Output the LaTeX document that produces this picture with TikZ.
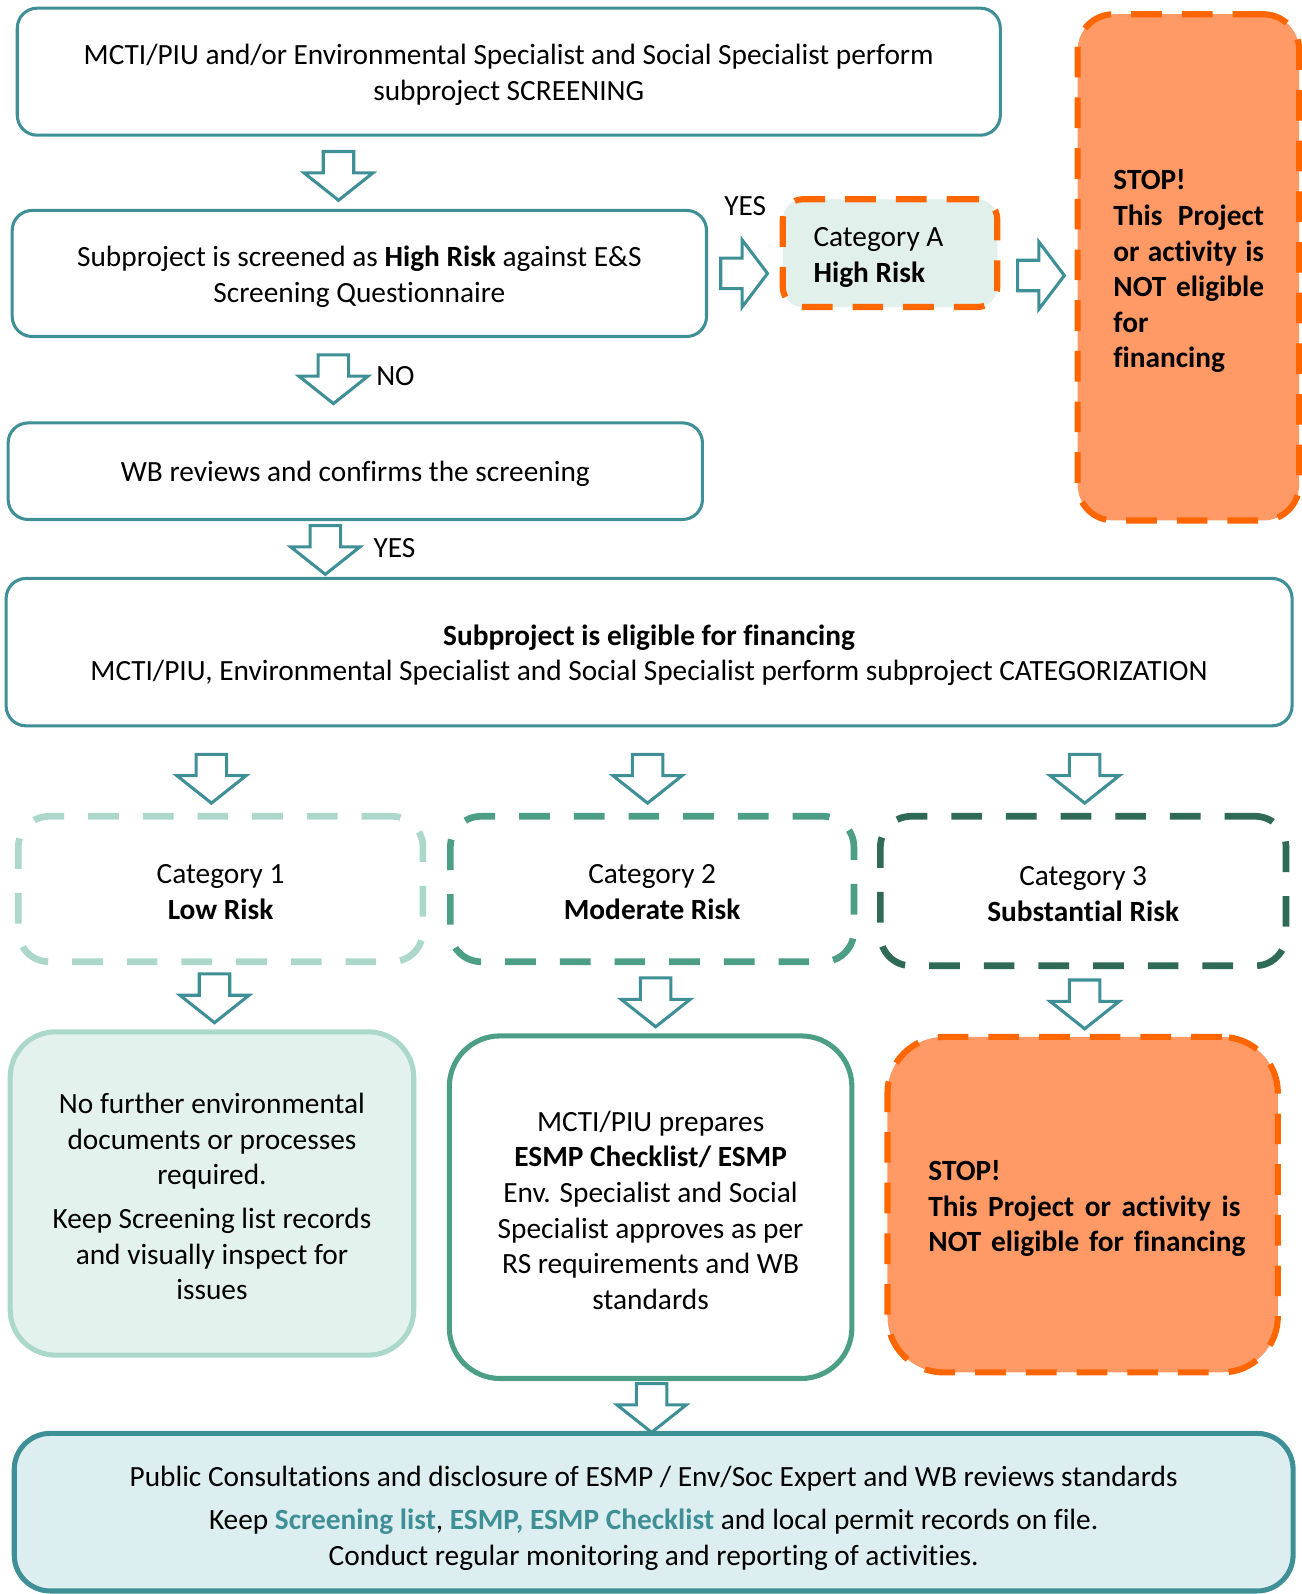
\documentclass[tikz,border=0pt]{standalone}
\usepackage{fontspec}
\setmainfont{Carlito}[Ligatures=NoCommon]
\usepackage{tikz}
\usetikzlibrary{fit}

\definecolor{tealline}{RGB}{62,143,150}
\definecolor{catafill}{RGB}{226,240,235}
\definecolor{stoporange}{RGB}{255,102,0}
\definecolor{stopfill}{RGB}{255,153,102}
\definecolor{lowrisk}{RGB}{171,216,203}
\definecolor{modrisk}{RGB}{76,158,134}
\definecolor{subrisk}{RGB}{47,106,87}
\definecolor{lowfill}{RGB}{228,242,237}
\definecolor{endfill}{RGB}{221,238,240}

\tikzset{
  txt/.style={font=\fontsize{22}{26.7}\selectfont, inner sep=0pt, yshift=-2.3pt},
  boldtxt/.style={font=\fontsize{22}{26.7}\selectfont\bfseries, inner sep=0pt, yshift=-2.3pt},
  tealbox/.style={draw=tealline, line width=2.3pt, rounded corners=15pt, inner sep=0pt},
  stopbox/.style={draw=stoporange, fill=stopfill, line width=4.6pt, dash pattern=on 23pt off 15pt, rounded corners=#1, inner sep=0pt},
  catbox/.style={draw=#1, line width=5pt, dash pattern=on 23pt off 18pt, rounded corners=23pt, inner sep=0pt},
  resbox/.style={draw=#1, line width=3.8pt, inner sep=0pt},
  blkarrow/.style={draw=tealline, fill=white, line width=2.3pt}
}

\begin{document}
\begin{tikzpicture}[x=0.7623pt,y=0.7623pt,yscale=-1,xscale=1]
\useasboundingbox (0,0) rectangle (1280,1568);

%Rounded Rect -- screening
\node [tealbox, fit={(17,8) (984,133)}] (screen) {};
\node [txt, align=center] (screenT) at (screen.center) {MCTI/PIU and/or Environmental Specialist and Social Specialist perform\\ subproject SCREENING};
%Rounded Rect -- high risk question
\node [tealbox, fit={(12,207) (695,331)}] (highq) {};
\node [txt, align=center] (highqT) at (highq.center) {Subproject is screened as \textbf{High Risk} against E\&S\\ Screening Questionnaire};
%Rounded Rect -- WB review
\node [tealbox, fit={(8,416) (691,511)}] (wbrev) {};
\node [txt] (wbrevT) at (wbrev.center) {WB reviews and confirms the screening};
%Rounded Rect -- eligible
\node [tealbox, fit={(6,569) (1271,714)}] (elig) {};
\node [txt, align=center] (eligT) at (elig.center) {\textbf{Subproject is eligible for financing}\\ MCTI/PIU, Environmental Specialist and Social Specialist perform subproject CATEGORIZATION};

%Dashed Rect -- category A
\node [stopbox=15pt, fill=catafill, fit={(770,196) (981,302)}] (catA) {};
\node [txt, align=left, anchor=west] (catAT) at (800,250) {Category A\\ \textbf{High Risk}};
%Dashed Rect -- stop top
\node [stopbox=27pt, fit={(1060,14) (1278,512)}] (stopA) {};
\node [boldtxt, align=left, text width=113pt, anchor=west] (stopAT) at (1095,264) {STOP!\\ This\hspace{\fill}Project\\ or\hspace{\fill}activity\hspace{\fill}is\\ NOT\hspace{\fill}eligible\\ for\\ financing};

%Dashed Rect -- categories
\node [catbox=lowrisk, fit={(18,803) (416,946)}] (cat1) {};
\node [txt, align=center] (cat1T) at (cat1.center) {Category 1\\ \textbf{Low Risk}};
\node [catbox=modrisk, fit={(443,803) (840,946)}] (cat2) {};
\node [txt, align=center] (cat2T) at (cat2.center) {Category 2\\ \textbf{Moderate Risk}};
\node [catbox=subrisk, fit={(866,803) (1265,950)}] (cat3) {};
\node [txt, align=center] (cat3T) at (cat3.center) {Category 3\\ \textbf{Substantial Risk}};

%Rounded Rect -- outcomes
\node [resbox=lowrisk, fill=lowfill, rounded corners=34pt, fit={(10,1015) (407,1333)}] (res1) {};
\node [txt, align=center] (res1T) at (res1.center) {No further environmental\\ documents or processes\\ required.\\[6pt] Keep Screening list records\\ and visually inspect for\\ issues};
\node [resbox=modrisk, fill=white, rounded corners=38pt, fit={(442,1019) (838,1356)}] (res2) {};
\node [txt, align=center] (res2T) at (res2.center) {MCTI/PIU prepares\\ \textbf{ESMP Checklist/ ESMP}\\ Env. Specialist and Social\\ Specialist approves as per\\ RS requirements and WB\\ standards};
\node [stopbox=42pt, fit={(873,1020) (1257,1350)}] (stopB) {};
\node [boldtxt, align=left, text width=234pt, anchor=west] (stopBT) at (913,1186) {STOP!\\ This\hspace{\fill}Project\hspace{\fill}or\hspace{\fill}activity\hspace{\fill}is\\ \mbox{NOT eligible for financing}};

%Rounded Rect -- final
\node [resbox=tealline, fill=endfill, rounded corners=27pt, fit={(14,1410) (1272,1565)}] (final) {};
\node [txt, align=center, yshift=-2.3pt] (finalT) at (final.center) {Public Consultations and disclosure of ESMP / Env/Soc Expert and WB reviews standards\\[6pt] Keep \textcolor{tealline}{\textbf{Screening list}}, \textcolor{tealline}{\textbf{ESMP, ESMP Checklist}} and local permit records on file.\\ Conduct regular monitoring and reporting of activities.};

%Block Arrows (down)
\foreach \ax/\ay in {333/149, 328/349, 320/517, 208/742, 637/742, 1067/742, 211/958, 645/962, 1067/964, 641/1361}
  \draw [blkarrow] (\ax-15,\ay) -- (\ax+15,\ay) -- (\ax+15,\ay+21) -- (\ax+34,\ay+21) -- (\ax,\ay+48) -- (\ax-34,\ay+21) -- (\ax-15,\ay+21) -- cycle;
%Block Arrows (right)
\foreach \ax/\ay in {709/269, 1001/271}
  \draw [blkarrow] (\ax,\ay-15) -- (\ax+21,\ay-15) -- (\ax+21,\ay-33) -- (\ax+46,\ay) -- (\ax+21,\ay+33) -- (\ax+21,\ay+15) -- (\ax,\ay+15) -- cycle;

% Text Node
\node [txt] (yesA) at (733,200) {YES};
% Text Node
\node [txt] (noB) at (389,367) {NO};
% Text Node
\node [txt] (yesC) at (388,536) {YES};

\end{tikzpicture}
\end{document}
